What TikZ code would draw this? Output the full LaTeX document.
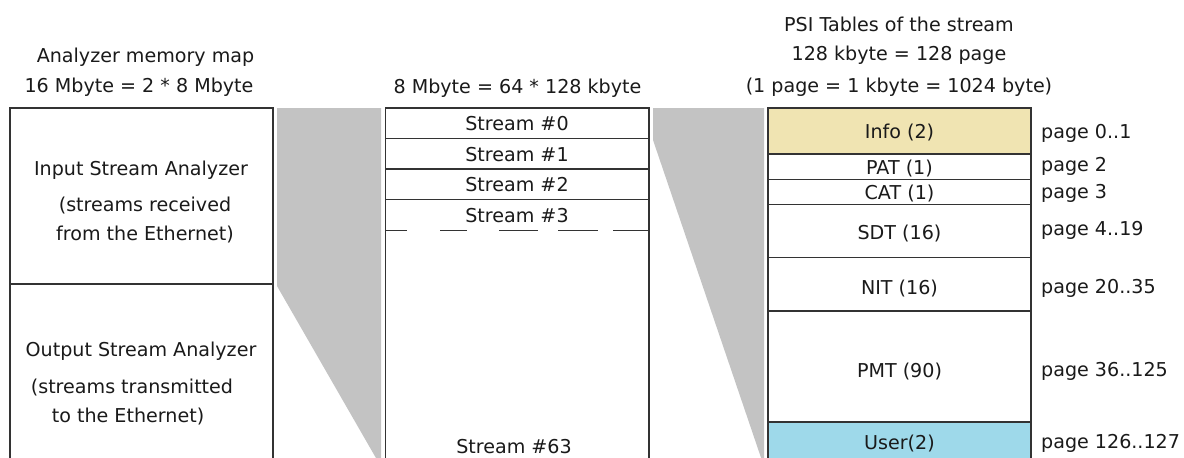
\documentclass[tikz,border=0pt]{standalone}
\usepackage{fontspec}
\setmainfont{DejaVu Sans}
\definecolor{ink}{HTML}{1A1A1A}
\definecolor{rule}{HTML}{333333}
\definecolor{wedge}{HTML}{C3C3C3}
\definecolor{infofill}{HTML}{F0E4B2}
\definecolor{userfill}{HTML}{9ED9EA}
\tikzset{
  lbl/.style={anchor=base, inner sep=0pt, text=ink, font=\fontsize{19.1}{21}\selectfont},
  pagelbl/.style={lbl, anchor=base west},
  frame/.style={draw=rule, line width=1.5pt},
  fan/.style={fill=wedge, draw=none},
}
\begin{document}
\begin{tikzpicture}[x=1pt, y=-1pt]
  \clip (0,0) rectangle (1184,458);
  \fill[white] (0,0) rectangle (1184,458);

  % headings
  \node[lbl] (hmap)  at (145.5,62) {Analyzer memory map};
  \node[lbl] (hsize) at (139,92) {16 Mbyte = 2 * 8 Mbyte};
  \node[lbl] (hstr)  at (517.5,93) {8 Mbyte = 64 * 128 kbyte};
  \node[lbl] (hpsi)  at (899,31) {PSI Tables of the stream};
  \node[lbl] (hpage) at (899,60.5) {128 kbyte = 128 page};
  \node[lbl] (hkb)   at (899,92.5) {(1 page = 1 kbyte = 1024 byte)};

  % zoom wedges
  \path[fan] (277,108) -- (381,108) -- (381,465) -- (380,465) -- (277,286) -- cycle;
  \path[fan] (653,108) -- (764,108) -- (764,465) -- (763.5,465) -- (653,140) -- cycle;

  % analyzer memory map
  \draw[frame] (10,470) -- (10,108) -- (273,108) -- (273,470);
  \draw[frame] (10,284) -- (273,284);
  \node[lbl] (inA) at (141,175) {Input Stream Analyzer};
  \node[lbl] (inB) at (145,211) {(streams received};
  \node[lbl] (inC) at (145,240) {from the Ethernet)};
  \node[lbl] (outA) at (141,356) {Output Stream Analyzer};
  \node[lbl] (outB) at (132,393) {(streams transmitted};
  \node[lbl] (outC) at (128,422) {to the Ethernet)};

  % stream slots
  \draw[frame] (385.5,470) -- (385.5,108) -- (649,108) -- (649,470);
  \draw[frame] (385.5,138.5) -- (649,138.5);
  \draw[frame] (385.5,169) -- (649,169);
  \draw[frame] (385.5,199.5) -- (649,199.5);
  \foreach \a/\b in {385.5/407, 440/467, 499/538, 558/598, 613/649}
    \draw[rule, line width=1.5pt] (\a,230.5) -- (\b,230.5);
  \node[lbl] (s0)  at (517,130) {Stream \#0};
  \node[lbl] (s1)  at (517,161) {Stream \#1};
  \node[lbl] (s2)  at (517,191) {Stream \#2};
  \node[lbl] (s3)  at (517,222) {Stream \#3};
  \node[lbl] (s63) at (514,453) {Stream \#63};

  % PSI table pages
  \fill[infofill] (768,108) rectangle (1031,154);
  \fill[userfill] (768,422) rectangle (1031,470);
  \draw[frame] (768,470) -- (768,108) -- (1031,108) -- (1031,470);
  \foreach \y in {154,179.5,204.5,257.5,311,422}
    \draw[frame] (768,\y) -- (1031,\y);
  \node[lbl] (tinfo) at (899.5,138) {Info (2)};
  \node[lbl] (tpat)  at (899.5,174) {PAT (1)};
  \node[lbl] (tcat)  at (899.5,199) {CAT (1)};
  \node[lbl] (tsdt)  at (899.5,239) {SDT (16)};
  \node[lbl] (tnit)  at (899.5,294) {NIT (16)};
  \node[lbl] (tpmt)  at (899.5,377) {PMT (90)};
  \node[lbl] (tuser) at (899.5,449) {User(2)};

  \node[pagelbl] (p0)   at (1041,138) {page 0..1};
  \node[pagelbl] (p2)   at (1041,171) {page 2};
  \node[pagelbl] (p3)   at (1041,198) {page 3};
  \node[pagelbl] (p4)   at (1041,235) {page 4..19};
  \node[pagelbl] (p20)  at (1041,293) {page 20..35};
  \node[pagelbl] (p36)  at (1041,376) {page 36..125};
  \node[pagelbl] (p126) at (1041,448) {page 126..127};
\end{tikzpicture}
\end{document}
